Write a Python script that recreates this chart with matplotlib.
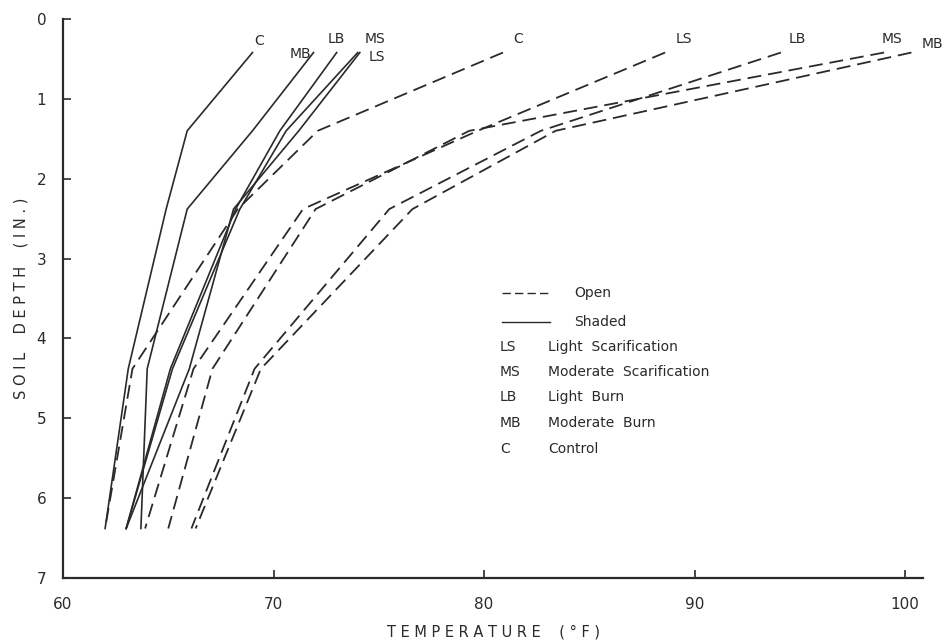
import matplotlib
matplotlib.use('Agg')
import matplotlib.pyplot as plt
from matplotlib.lines import Line2D

plt.rcParams['font.family'] = ['DejaVu Sans']
plt.rcParams['lines.scale_dashes'] = False

# depth of the readings (in.)
depth = [0.42, 1.4, 2.38, 4.38, 6.38]

# shaded plots, temperature (F) at each depth
shaded_c = [69.0, 65.9, 64.9, 63.1, 62.0]
shaded_mb = [71.9, 69.0, 65.9, 64.0, 63.7]
shaded_lb = [73.0, 70.3, 68.2, 65.1, 63.0]
shaded_ms = [74.0, 70.6, 68.4, 65.2, 63.0]
shaded_ls = [74.1, 71.2, 68.1, 66.0, 63.0]

# open plots
open_c = [80.9, 72.1, 68.3, 63.3, 62.0]
open_ls = [88.6, 79.7, 71.4, 66.2, 63.9]
open_lb = [94.1, 82.7, 75.5, 69.1, 66.1]
open_ms = [99.0, 79.3, 72.0, 67.1, 65.0]
open_mb = [100.3, 83.4, 76.6, 69.4, 66.3]

shaded_names = ['C', 'MB', 'LB', 'MS', 'LS']
open_names = ['C', 'LS', 'LB', 'MS', 'MB']

legend_abbr = ['LS', 'MS', 'LB', 'MB', 'C']
legend_text = ['Light  Scarification', 'Moderate  Scarification', 'Light  Burn',
               'Moderate  Burn', 'Control']

# where the curve labels sit (temperature, depth)
shaded_label_pos = [(69.3, 0.28), (71.3, 0.44), (73.0, 0.25), (74.8, 0.25), (74.9, 0.48)]
open_label_pos = [(81.6, 0.25), (89.5, 0.25), (94.9, 0.25), (99.4, 0.25), (101.3, 0.31)]

INK = '#2a2a2a'
W, H = 947, 642

fig = plt.figure(figsize=(W / 100, H / 100), dpi=100, facecolor='w')
ax = fig.add_axes([63 / W, 64 / H, 860 / W, 559 / H])

shaded = [shaded_c, shaded_mb, shaded_lb, shaded_ms, shaded_ls]
opened = [open_c, open_ls, open_lb, open_ms, open_mb]

for temps in shaded:
    ax.plot(temps, depth, color=INK, lw=1.2)
for temps in opened:
    ax.plot(temps, depth, color=INK, lw=1.3, dashes=(10, 5))

for name, (x, y) in zip(shaded_names, shaded_label_pos):
    ax.text(x, y, name, fontsize=10, color=INK, ha='center', va='center')
for name, (x, y) in zip(open_names, open_label_pos):
    ax.text(x, y, name, fontsize=10, color=INK, ha='center', va='center', clip_on=False)

ax.set_xlim(60, 100.85)
ax.set_ylim(7, 0)
ax.set_xticks([60, 70, 80, 90, 100])
ax.set_yticks(range(8))
ax.tick_params(direction='in', length=6, width=1.2, colors=INK, labelsize=11)
ax.tick_params(axis='y', pad=12)
ax.tick_params(axis='x', pad=14)
for s in ['top', 'right']:
    ax.spines[s].set_visible(False)
for s in ['left', 'bottom']:
    ax.spines[s].set_linewidth(1.6)
    ax.spines[s].set_color(INK)

ax.set_xlabel('T E M P E R A T U R E    ( ° F )', fontsize=10.5, color=INK, labelpad=9)
ax.set_ylabel('S O I L    D E P T H    ( I N . )', fontsize=10.5, color=INK, labelpad=6)

# legend drawn by hand
def fx(px):
    return px / W

def fy(py):
    return 1 - py / H

fig.add_artist(Line2D([fx(502), fx(550)], [fy(293), fy(293)], color=INK, lw=1.0, dashes=(6, 3)))
fig.add_artist(Line2D([fx(502), fx(550)], [fy(322), fy(322)], color=INK, lw=1.0))
fig.text(fx(574), fy(293), 'Open', fontsize=10, color=INK, va='center')
fig.text(fx(574), fy(322), 'Shaded', fontsize=10, color=INK, va='center')

rows = [347, 372, 397, 423, 449]
for abbr, txt, py in zip(legend_abbr, legend_text, rows):
    fig.text(fx(500), fy(py), abbr, fontsize=10, color=INK, va='center')
    fig.text(fx(548), fy(py), txt, fontsize=10, color=INK, va='center')

plt.savefig('out.png', dpi=100)
